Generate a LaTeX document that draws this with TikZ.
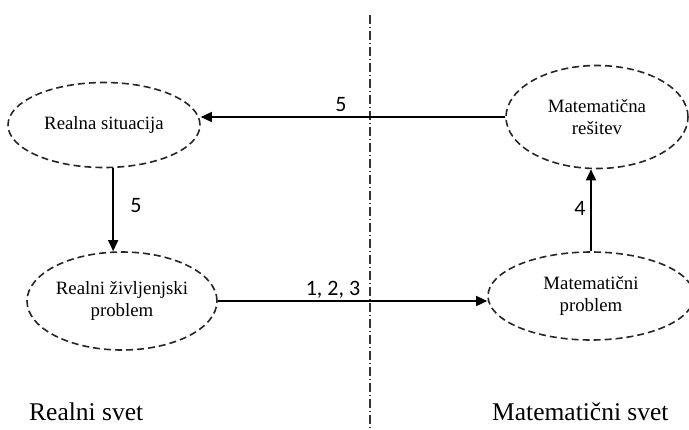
\documentclass[tikz,border=0pt]{standalone}
\usepackage{fontspec}
\setmainfont{Liberation Serif}
\newfontfamily\numfont{Carlito}
\usetikzlibrary{shapes.geometric,arrows.meta}

\begin{document}
\begin{tikzpicture}[x=1pt,y=-1pt,
  oval/.style={ellipse,draw=black!85,line width=1.6pt,
    dash pattern=on 7pt off 4pt,inner sep=0pt,align=center,
    font=\fontsize{18.8}{22}\selectfont},
  arr/.style={line width=1.4pt,-{Triangle[length=11pt,width=10pt]}},
  num/.style={font=\numfont\fontsize{22}{26}\selectfont,inner sep=0pt},
  side/.style={font=\fontsize{25.5}{30}\selectfont,inner sep=0pt,anchor=base west}]

\path[use as bounding box,clip] (0,0) rectangle (689,429);

% the four stages of the cycle
\node[oval,minimum width=192pt,minimum height=85pt] (sit) at (104,125) {Realna situacija};
\node[oval,minimum width=190pt,minimum height=98pt] (zivl) at (122,301) {Realni življenjski\\problem};
\node[oval,minimum width=182pt,minimum height=103pt] (res) at (597,117) {Matematična\\rešitev};
\node[oval,minimum width=206pt,minimum height=88pt] (mprob) at (591,296) {Matematični\\problem};

% boundary between the real and the mathematical world
\coordinate (divtop) at (370,15);
\coordinate (divbot) at (370,429);
\draw[black!80,line width=1.6pt,dash pattern=on 9pt off 3pt on 1pt off 3pt] (divtop) -- (divbot);

% connectors
\draw[arr] (zivl.east) -- (zivl.east -| mprob.west);
\draw[arr] (mprob.north) -- (mprob.north |- res.south);
\draw[arr] (res.west) -- (res.west -| sit.east);
\draw[arr] (sit.-78) -- (sit.-78 |- zivl.north);

% step numbers
\node[num] (n123) at (333,290) {1, 2, 3};
\node[num] (n4) at (580,208) {4};
\node[num] (n5a) at (341,105) {5};
\node[num] (n5b) at (136,206) {5};

% world labels
\node[side] (real) at (29,420) {Realni svet};
\node[side] (math) at (492,420) {Matematični svet};
\end{tikzpicture}
\end{document}
